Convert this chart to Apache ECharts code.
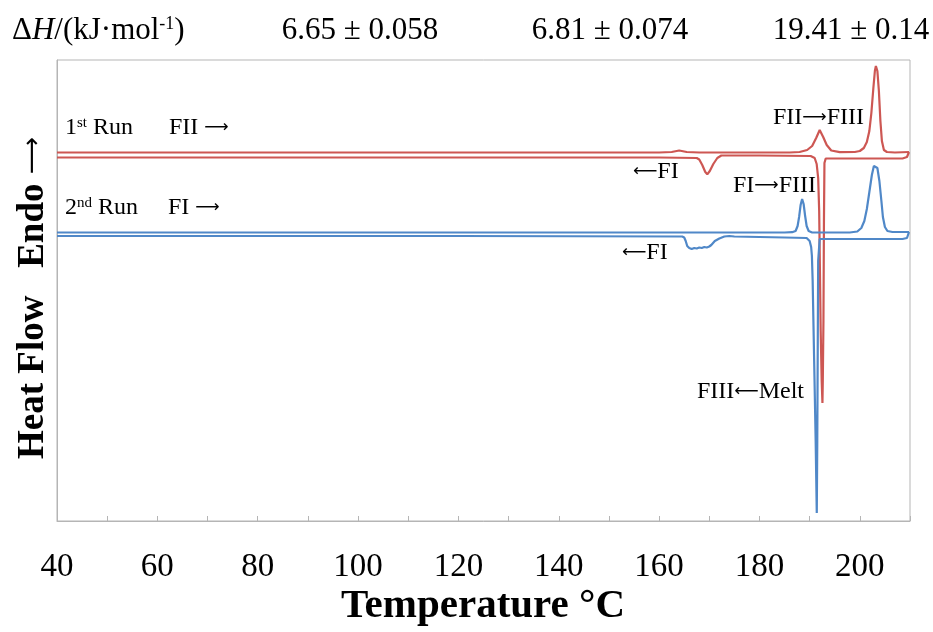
<!DOCTYPE html>
<html>
<head>
<meta charset="utf-8">
<script src="https://cdn.jsdelivr.net/npm/echarts@6/dist/echarts.min.js"></script>
<style>
html, body { margin: 0; padding: 0; background: #fff; }
#main { width: 933px; height: 632px; }
</style>
</head>
<body>
<div id="main"></div>
<script>
// temperature (°C) vs heat flow (arbitrary units, endo up)
// 1st run: heating (FII ->) then cooling back (<- FI)
var run1Heating = [
  [40, 36.85], [100, 36.85], [160, 36.85], [162.5, 36.9], [164, 37.05], [165.5, 36.9],
  [168, 36.85], [186, 36.85], [188, 36.9], [189.5, 37.1], [190.5, 37.5], [191.3, 38.3],
  [192.0, 39.1], [192.7, 38.4], [193.4, 37.6], [194.3, 37.05], [196, 36.88], [199, 36.9],
  [200, 37.0], [200.8, 37.3], [201.4, 37.9], [201.9, 39.0], [202.3, 40.8], [202.7, 43.3],
  [203.0, 45.0], [203.2, 45.5], [203.5, 45.0], [203.8, 43.0], [204.1, 40.0], [204.4, 38.0],
  [204.8, 37.1], [205.4, 36.9], [207, 36.85], [209.8, 36.9]
];
var run1Cooling = [
  [209.8, 36.9], [209.4, 36.4], [208.5, 36.25], [200, 36.25], [193.2, 36.25], [192.95, 35.8],
  [192.85, 30], [192.75, 20], [192.62, 14], [192.55, 11.8], [192.4, 14], [192.2, 19],
  [192.05, 25], [191.9, 31], [191.7, 34.3], [191.4, 35.7], [191.0, 36.3], [190.2, 36.5],
  [180, 36.55], [172.4, 36.55], [171.6, 36.3], [170.8, 35.7], [170.1, 35.0], [169.6, 34.67],
  [169.2, 34.9], [168.6, 35.6], [168.0, 36.15], [167.5, 36.3], [160, 36.35], [40, 36.35]
];
// 2nd run: heating (FI ->) then cooling back (<- FI)
var run2Heating = [
  [40, 28.85], [120, 28.85], [185, 28.85], [186.5, 28.88], [187.2, 29.0], [187.6, 29.5],
  [187.9, 30.4], [188.2, 31.6], [188.5, 32.2], [188.8, 31.7], [189.1, 30.5], [189.4, 29.5],
  [189.8, 29.0], [190.5, 28.85], [198, 28.85], [199.5, 28.95], [200.3, 29.3], [200.9, 30.0],
  [201.4, 31.2], [201.9, 32.9], [202.4, 34.6], [202.8, 35.5], [203.1, 35.6], [203.5, 35.3],
  [203.9, 34.0], [204.3, 32.0], [204.6, 30.4], [205.0, 29.4], [205.5, 29.0], [206.5, 28.9],
  [209.8, 28.9]
];
var run2Cooling = [
  [209.8, 28.9], [209.4, 28.3], [208.5, 28.2], [192.0, 28.2], [191.75, 28.0], [191.7, 26],
  [191.62, 18], [191.52, 8], [191.42, 0.8], [191.2, 8], [190.9, 16], [190.6, 24],
  [190.45, 26.5], [190.3, 27.4], [190.0, 28.0], [189.4, 28.3], [185, 28.35], [175, 28.45],
  [174, 28.5], [173, 28.45], [172, 28.25], [171.1, 28.0], [170.4, 27.6], [170.0, 27.45],
  [169.5, 27.35], [169.0, 27.4], [168.5, 27.3], [168.0, 27.35], [167.5, 27.25], [167.0, 27.3],
  [166.5, 27.2], [166.0, 27.3], [165.6, 27.5], [165.3, 28.0], [165.0, 28.35], [164.6, 28.45],
  [120, 28.5], [40, 28.5]
];
// enthalpy values shown above the plot
var enthalpyLabels = ['6.65 \u00b1 0.058', '6.81 \u00b1 0.074', '19.41 \u00b1 0.14'];

var serif = '"Liberation Serif", "Times New Roman", serif';
var arrowFont = '"DejaVu Sans", sans-serif';
var red = '#cd5753';
var blue = '#5088c8';

// 标注用的富文本样式
var annoRich = {
  n: { fontFamily: serif, fontSize: 24, fill: '#000' },
  s: { fontFamily: serif, fontSize: 15, fill: '#000', verticalAlign: 'top' },
  a: { fontFamily: arrowFont, fontSize: 17, fill: '#000' }
};
var R = '{a|\u27f6}', L = '{a|\u27f5}';

function anno(x, y, text) {
  return { type: 'text', x: x, y: y, style: { text: text, rich: annoRich, textVerticalAlign: 'middle' } };
}

var myChart = echarts.init(document.getElementById('main'));

var option = {
  animation: false,
  backgroundColor: '#fff',
  grid: {
    left: 57, right: 23, top: 60, bottom: 111,
    show: true, borderColor: '#b5b5b5', borderWidth: 1
  },
  xAxis: {
    type: 'value',
    min: 40, max: 210, interval: 10,
    splitLine: { show: false },
    axisLine: { lineStyle: { color: '#b5b5b5', width: 1 } },
    axisTick: { inside: true, length: 5, lineStyle: { color: '#b5b5b5' } },
    axisLabel: {
      margin: 30,
      fontFamily: serif, fontSize: 33, color: '#000',
      formatter: function (v) { return v % 20 === 0 && v <= 200 ? String(v) : ''; }
    }
  },
  yAxis: {
    type: 'value',
    min: 0, max: 46.1,
    axisLabel: { show: false },
    axisTick: { show: false },
    splitLine: { show: false },
    axisLine: { show: true, lineStyle: { color: '#b5b5b5' } }
  },
  series: [
    { name: '1st heating', type: 'line', data: run1Heating, showSymbol: false, lineStyle: { color: red, width: 2.2 } },
    { name: '1st cooling', type: 'line', data: run1Cooling, showSymbol: false, lineStyle: { color: red, width: 2.2 } },
    { name: '2nd heating', type: 'line', data: run2Heating, showSymbol: false, lineStyle: { color: blue, width: 2.2 } },
    { name: '2nd cooling', type: 'line', data: run2Cooling, showSymbol: false, lineStyle: { color: blue, width: 2.2 } }
  ],
  graphic: [
    // 顶部焓值
    {
      type: 'text', x: 12, y: 31,
      style: {
        text: '{n|\u0394}{i|H}{n|/(kJ\u00b7mol}{s|-1}{n|)}',
        textVerticalAlign: 'middle',
        rich: {
          n: { fontFamily: serif, fontSize: 31, fill: '#000' },
          i: { fontFamily: serif, fontSize: 31, fontStyle: 'italic', fill: '#000' },
          s: { fontFamily: serif, fontSize: 18, fill: '#000', verticalAlign: 'top' }
        }
      }
    },
    { type: 'text', x: 360, y: 31, style: { text: enthalpyLabels[0], font: '31px ' + serif, fill: '#000', textAlign: 'center', textVerticalAlign: 'middle' } },
    { type: 'text', x: 610, y: 31, style: { text: enthalpyLabels[1], font: '31px ' + serif, fill: '#000', textAlign: 'center', textVerticalAlign: 'middle' } },
    { type: 'text', x: 851, y: 31, style: { text: enthalpyLabels[2], font: '31px ' + serif, fill: '#000', textAlign: 'center', textVerticalAlign: 'middle' } },
    // y轴标题
    {
      type: 'text', x: 33, y: 298, rotation: Math.PI / 2,
      style: {
        text: '{b|Heat Flow   Endo }{a|\u27f6}',
        textAlign: 'center', textVerticalAlign: 'middle',
        rich: {
          b: { fontFamily: serif, fontSize: 37, fontWeight: 'bold', fill: '#000' },
          a: { fontFamily: arrowFont, fontSize: 26, fill: '#000' }
        }
      }
    },
    // x轴标题
    {
      type: 'text', x: 483, y: 606,
      style: { text: 'Temperature \u00b0C', font: 'bold 41px ' + serif, fill: '#000', textAlign: 'center', textVerticalAlign: 'middle' }
    },
    // 曲线标注
    anno(65, 128, '{n|1}{s|st}{n| Run      FII }' + R),
    anno(65, 208, '{n|2}{s|nd}{n| Run     FI }' + R),
    anno(773, 118, '{n|FII}' + R + '{n|FIII}'),
    anno(633, 172, L + '{n|FI}'),
    anno(733, 186, '{n|FI}' + R + '{n|FIII}'),
    anno(622, 253, L + '{n|FI}'),
    anno(697, 392, '{n|FIII}' + L + '{n|Melt}')
  ]
};
myChart.setOption(option);
</script>
</body>
</html>
